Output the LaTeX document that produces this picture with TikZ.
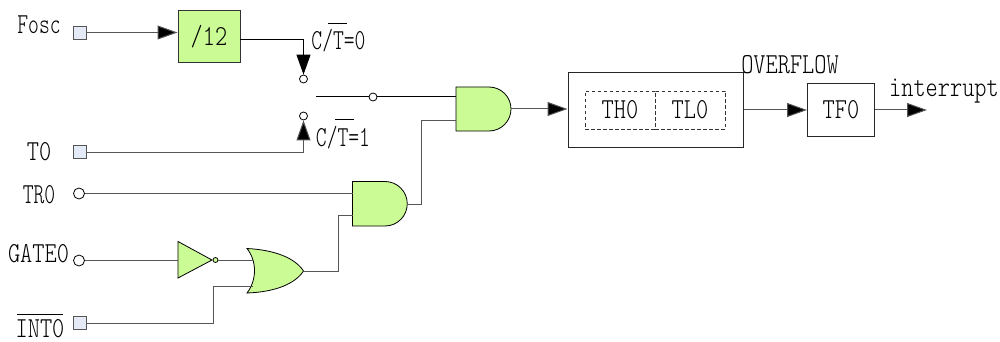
\documentclass[tikz,border=0pt]{standalone}
\usepackage{fontspec}
\usetikzlibrary{arrows.meta}
\newfontfamily\lab{Latin Modern Mono Light}[FakeStretch=0.8]
\newfontfamily\labn{Latin Modern Mono Light}[FakeStretch=0.71]
\definecolor{gfill}{HTML}{CBFB95}
\definecolor{pfill}{HTML}{E4EBF7}
\definecolor{wgray}{HTML}{555555}
\tikzset{
  x=1pt,y=-1pt,
  wire/.style={draw=wgray,line width=1pt},
  bwire/.style={draw=black,line width=1pt},
  arr/.style={-{Triangle[length=20pt,width=14pt,fill=black]}},
  pin/.style={draw=wgray,fill=pfill,line width=0.9pt,minimum size=13pt,inner sep=0pt,rectangle},
  hole/.style={draw=black,fill=white,line width=0.8pt,minimum size=#1,inner sep=0pt,circle},
  gate/.style={draw=black,fill=gfill,line width=0.8pt},
  box/.style={draw=black!85,line width=1pt,inner sep=0pt,rectangle},
  dbox/.style={draw=black!80,line width=0.7pt,dash pattern=on 3.5pt off 2.5pt,inner sep=0pt,rectangle},
  txt/.style={inner sep=0pt,font=\lab\fontsize{29}{29}\selectfont},
  txtn/.style={inner sep=0pt,font=\labn\fontsize{29}{29}\selectfont},
  bar/.style={draw=black,line width=0.8pt},
}
\begin{document}
\begin{tikzpicture}
\useasboundingbox (0,0) rectangle (1000,342);
% pins
\node[pin] (fosc) at (80,32.5) {};
\node[pin] (t0) at (80,152) {};
\node[pin] (int0) at (80,323) {};
\node[hole=11pt] (tr0) at (79,193.5) {};
\node[hole=11pt] (gate0) at (79,260.5) {};
% boxes
\node[box,fill=gfill,minimum width=62pt,minimum height=52pt,draw=black!80] (div) at (209,36.5) {};
\node[txt] at (209,37) {/12};
\node[box,minimum width=175pt,minimum height=75pt] (cnt) at (655.5,110) {};
\node[dbox,minimum width=70pt,minimum height=38pt] (th) at (620,110) {};
\node[dbox,minimum width=70pt,minimum height=38pt] (tl) at (690,110) {};
\node[txt] at (620,110) {TH0};
\node[txt] at (690,110) {TL0};
\node[box,minimum width=67pt,minimum height=52pt] (tf) at (841,110) {};
\node[txt] at (841,110) {TF0};
% gates
\draw[gate] (456,87) -- (489,87) arc[start angle=-90,end angle=90,radius=22] -- (456,131) -- cycle;
\draw[gate] (352.5,181.5) -- (385,181.5) arc[start angle=-90,end angle=90,radius=22.25] -- (352.5,226) -- cycle;
\draw[gate] (247,248.5) .. controls (275,250) and (295,258) .. (303.5,271) .. controls (295,284) and (275,292) .. (247,293) .. controls (257,280) and (257,261) .. (247,248.5) -- cycle;
\draw[gate] (178,241.5) -- (212,260) -- (178,278) -- cycle;
\node[hole=5pt,fill=gfill] (bub) at (215.5,260) {};
% coordinates
\coordinate (and1a) at (456,97);
\coordinate (and1b) at (456,120);
\coordinate (and1o) at (511,109);
\coordinate (and2a) at (352.5,193.5);
\coordinate (and2b) at (352.5,215);
\coordinate (and2o) at (407,204);
\coordinate (ora) at (253,260);
\coordinate (orb) at (253,286);
\coordinate (oro) at (303.5,271);
\coordinate (inva) at (178,260.5);
\coordinate (swstart) at (316,97);
\coordinate (arrend) at (927,110);
\coordinate (up1) at (421,120);
\coordinate (up2) at (338,215);
\coordinate (up3) at (213,286);
\coordinate (divout) at (240,40);
\node[hole=8pt] (c0) at (303.5,79) {};
\node[hole=8pt] (c1) at (303.5,116) {};
\node[hole=8pt] (cm) at (373,97) {};
% wires
\draw[wire,arr] (fosc.east) -- (fosc.east -| div.west);
\draw[bwire,arr] (divout) -| (c0.north);
\draw[wire,arr] (t0.east) -| (c1.south);
\draw[bwire] (swstart) -- (cm.west);
\draw[bwire] (cm.east) -- (and1a);
\draw[wire] (and2o) -| (up1) -- (and1b);
\draw[wire,arr] (and1o) -- (cnt.west |- and1o);
\draw[wire,arr] (cnt.east) -- (tf.west);
\draw[wire,arr] (tf.east) -- (arrend);
\draw[wire] (tr0.east) -- (and2a);
\draw[wire] (gate0.east) -- (inva);
\draw[wire] (bub.east) -- (ora);
\draw[wire] (int0.east) -| (up3) -- (orb);
\draw[wire] (oro) -| (up2) -- (and2b);
% labels
\node[txtn] at (39,25) {Fosc};
\node[txt] at (39,152) {T0};
\node[txtn] at (39,195) {TR0};
\node[txt] at (38.5,254) {GATE0};
\node[txt] (intl) at (40,328.5) {INT0};
\draw[bar] (17,314) -- (63,314);
\node[txtn] (ct0) at (338.5,41) {C/T=0};
\draw[bar] (328,23.5) -- (347,23.5);
\node[txtn] (ct1) at (343,138) {C/T=1};
\draw[bar] (335,119) -- (354,119);
\node[txt] at (790,65) {OVERFLOW};
\node[txt] at (944,91) {interrupt};
\end{tikzpicture}
\end{document}
